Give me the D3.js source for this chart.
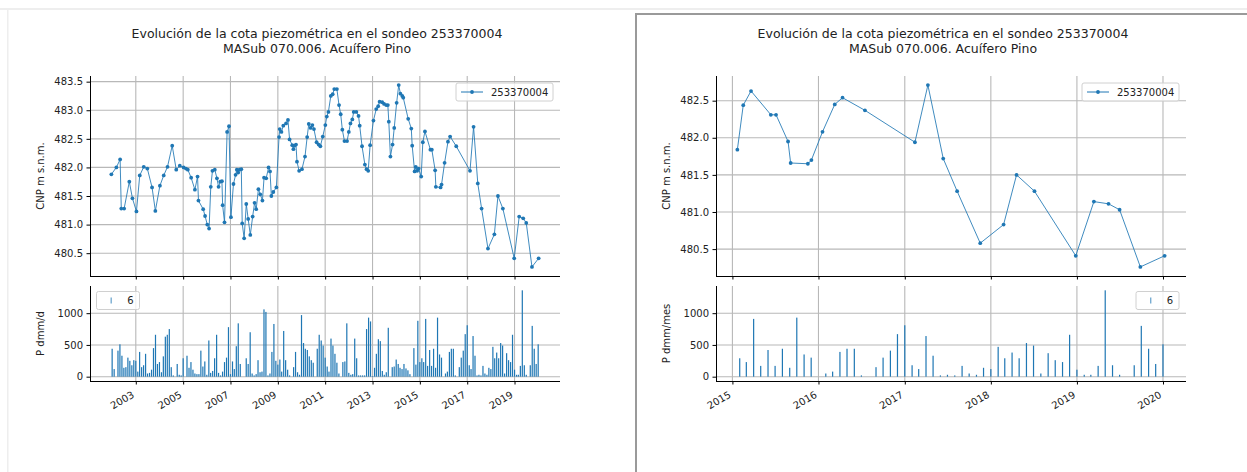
<!DOCTYPE html>
<html><head><meta charset="utf-8">
<script src="https://cdn.jsdelivr.net/npm/d3@7"></script>
<style>
body{margin:0;background:#fff;}
svg{display:block;font-family:"DejaVu Sans",sans-serif;}
</style></head><body>
<svg id="c" width="1247" height="472"></svg>
<script>
// ---------------- DATA ----------------
const titleLines = ["Evolución de la cota piezométrica en el sondeo 253370004", "MASub 070.006. Acuífero Pino"];
const seriesName = "253370004";
const precipName = "6";
const yLabelTop = "CNP m s.n.m.";
const yLabelBottomLeft = "P dmm/d";
const yLabelBottomRight = "P dmm/mes";

const lineDates = [
 "2001-12-20","2002-03-07","2002-05-04","2002-05-22","2002-07-05","2002-09-23","2002-11-10",
 "2003-01-11","2003-03-03","2003-05-04","2003-06-28","2003-09-09","2003-10-30",
 "2004-01-08","2004-03-07","2004-05-04","2004-07-16","2004-09-16","2004-11-10",
 "2005-01-08","2005-02-13","2005-03-14","2005-05-04","2005-07-01","2005-08-11","2005-08-25","2005-11-06","2005-12-05",
 "2006-01-08","2006-02-05","2006-03-03","2006-03-29","2006-05-04","2006-06-06","2006-07-01","2006-07-27","2006-08-22","2006-09-02","2006-10-01","2006-11-10","2006-12-09",
 "2007-01-08","2007-02-16","2007-03-21","2007-04-09","2007-04-30","2007-05-22","2007-06-17","2007-07-01","2007-07-31","2007-09-02","2007-10-01","2007-11-03","2007-12-09",
 "2008-01-08","2008-02-02","2008-03-07","2008-04-05","2008-05-08","2008-06-02","2008-07-05","2008-08-11","2008-09-02","2008-09-23","2008-10-23","2008-12-09",
 "2009-01-19","2009-01-30","2009-02-25","2009-03-26","2009-05-08","2009-06-06","2009-07-01","2009-08-11","2009-08-29","2009-09-13","2009-10-08","2009-10-23","2009-11-25",
 "2010-01-08","2010-02-24","2010-03-29","2010-04-23","2010-05-22","2010-06-17","2010-07-12","2010-08-22","2010-09-23","2010-10-19","2010-11-25",
 "2011-01-04","2011-01-26","2011-02-20","2011-03-29","2011-04-27","2011-05-22","2011-07-01","2011-08-03","2011-08-29","2011-09-23","2011-10-26","2011-12-05",
 "2012-01-01","2012-01-26","2012-02-24","2012-03-17","2012-04-26","2012-05-30","2012-06-17","2012-07-23","2012-09-05","2012-10-01","2012-10-26","2012-11-25",
 "2013-01-15","2013-02-27","2013-03-29","2013-04-20","2013-05-30","2013-06-28","2013-07-31","2013-08-25","2013-09-09","2013-10-04","2013-11-06","2013-12-02",
 "2014-01-08","2014-02-09","2014-03-07","2014-04-05","2014-04-20","2014-07-05","2014-08-22","2014-09-05","2014-10-12","2014-10-30","2014-11-21","2014-12-13",
 "2015-01-22","2015-02-16","2015-03-21","2015-06-13","2015-07-05","2015-08-25","2015-09-05","2015-11-17","2015-12-02",
 "2016-01-18","2016-03-10","2016-04-12","2016-07-16",
 "2017-02-13","2017-04-09","2017-06-13","2017-08-11","2017-11-17",
 "2018-02-24","2018-04-20","2018-07-05","2018-12-27",
 "2019-03-14","2019-05-15","2019-07-01","2019-09-27","2020-01-08"
];
const lineValues = [
 481.88,482.00,482.14,481.28,481.28,481.75,481.46,
 481.23,481.86,482.01,481.98,481.65,481.24,
 481.68,481.86,482.01,482.38,481.96,482.03,
 482.00,481.98,481.96,481.82,481.61,481.84,481.42,481.27,481.15,
 481.00,480.93,481.66,481.94,481.96,481.81,481.66,481.75,481.76,481.34,481.04,482.62,482.72,
 481.13,481.71,481.87,481.96,481.91,481.96,481.97,481.02,480.76,481.36,481.10,480.82,481.14,
 481.38,481.27,481.62,481.53,481.42,481.82,481.81,482.00,481.93,481.50,481.57,481.65,
 482.53,482.67,482.62,482.73,482.77,482.83,482.49,482.39,482.32,482.38,482.40,482.10,481.94,
 481.97,482.19,482.53,482.76,482.69,482.74,482.67,482.44,482.40,482.37,482.54,
 482.74,482.89,482.97,483.25,483.28,483.37,483.37,483.09,482.93,482.66,482.46,482.46,
 482.62,482.77,482.84,482.97,482.97,482.90,482.73,482.37,482.05,481.97,481.94,482.39,
 482.82,483.02,483.07,483.15,483.14,483.11,483.09,483.09,482.80,482.19,482.40,482.69,
 483.13,483.44,483.29,483.25,483.22,482.85,482.68,482.38,481.93,482.01,481.94,481.98,
 481.84,482.44,482.63,482.31,482.31,481.95,481.66,481.65,481.70,
 482.08,482.45,482.54,482.37,
 481.94,482.71,481.72,481.28,480.58,
 480.83,481.50,481.28,480.41,
 481.14,481.11,481.03,480.26,480.41
];

// monthly precipitation, one value per month starting at precipStart
const precipStart = "2002-01-01";
const precipValues = [
 440,120,0,410,510,330,140,150,300,250,180,260,      // 2002
 250,80,390,150,180,360,50,60,110,450,660,200,       // 2003
 230,70,320,630,660,750,150,20,0,200,30,20,          // 2004
 290,0,330,140,230,110,50,40,40,410,160,240,         // 2005
 30,570,60,90,290,660,60,20,80,230,300,780,          // 2006
 40,240,120,480,840,200,0,0,290,200,700,50,          // 2007
 20,40,260,70,80,1060,1020,20,50,390,830,250,        // 2008
 190,270,80,720,260,110,20,0,150,390,70,30,          // 2009
 970,530,440,420,320,260,220,0,440,660,570,490,      // 2010
 300,160,80,600,490,360,220,50,0,230,240,840,        // 2011
 60,30,40,600,290,20,20,20,20,750,930,870,           // 2012
 10,140,360,590,560,90,30,70,770,0,150,160,          // 2013
 270,200,140,120,200,130,100,40,0,450,190,880,       // 2014
 230,290,230,910,170,420,170,440,140,930,350,300,    // 2015
 0,50,80,390,440,440,20,0,150,300,410,670,           // 2016
 810,180,120,640,330,20,30,20,170,50,30,140,         // 2017
 120,470,290,380,290,530,490,50,370,260,230,660,     // 2018
 110,30,30,170,1360,180,30,0,180,800,440,200,        // 2019
 510                                                 // 2020
];

const leftXTicks = [2003,2005,2007,2009,2011,2013,2015,2017,2019];
const rightXTicks = [2015,2016,2017,2018,2019,2020];
const leftYTicks = [480.5,481.0,481.5,482.0,482.5,483.0,483.5];
const rightYTicks = [480.5,481.0,481.5,482.0,482.5];
const precipTicks = [0,500,1000];
const rightStart = "2015-01-01";

// ---------------- DRAW ----------------
const svg = d3.select("#c");
const parse = d3.timeParse("%Y-%m-%d");
const C = "#1f77b4";

// page frames
svg.append("rect").attr("x",0).attr("y",8).attr("width",1247).attr("height",2).attr("fill","#eeeeee");
svg.append("rect").attr("x",7).attr("y",9).attr("width",1.5).attr("height",463).attr("fill","#eeeeee");
svg.append("rect").attr("x",636).attr("y",14).attr("width",620).attr("height",470)
   .attr("fill","none").attr("stroke","#9a9a9a").attr("stroke-width",2);

const linePts = lineDates.map((d,i)=>({date:parse(d), v:lineValues[i]}));
const p0 = parse(precipStart);
const barPts = precipValues.map((v,i)=>({date:d3.timeMonth.offset(p0,i), v}));

function panel(opt){
  const g = svg.append("g");
  const pts = linePts.filter(p=>p.date>=opt.start);
  const bars = barPts.filter(b=>b.date>=pts[0].date);
  const allDates = pts.map(p=>p.date).concat(bars.map(b=>b.date));
  const [dmin,dmax] = d3.extent(allDates);
  const span = dmax - dmin;
  const x = d3.scaleTime().domain([new Date(+dmin - span*0.05), new Date(+dmax + span*0.05)]).range([opt.x0,opt.x1]);
  const [vmin,vmax] = d3.extent(pts,p=>p.v);
  const vr = vmax-vmin;
  const yT = d3.scaleLinear().domain([vmin-vr*0.05, vmax+vr*0.05]).range([276,76]);
  const bmax = d3.max(bars,b=>b.v);
  const yB = d3.scaleLinear().domain([-bmax*0.05, bmax*1.05]).range([381,286]);
  const xt = opt.xTicks.map(yy=>new Date(yy,0,1));

  function axesFrame(y, yticks, top, bottom){
    g.append("g").selectAll("line").data(xt).join("line")
      .attr("x1",d=>x(d)).attr("x2",d=>x(d)).attr("y1",top).attr("y2",bottom)
      .attr("stroke","#b8b8b8").attr("stroke-width",1.1);
    g.append("g").selectAll("line").data(yticks).join("line")
      .attr("x1",opt.x0).attr("x2",opt.x1).attr("y1",d=>y(d)).attr("y2",d=>y(d))
      .attr("stroke","#b8b8b8").attr("stroke-width",1.1);
  }
  function spines(y, yticks, fmt, top, bottom, showX){
    const yAxis = d3.axisLeft(y).tickValues(yticks).tickFormat(fmt).tickSize(3.5).tickPadding(3.5);
    const ga = g.append("g").attr("transform",`translate(${opt.x0},0)`).call(yAxis);
    ga.select(".domain").attr("d",`M0.5,${top}V${bottom}`).attr("stroke","#000");
    ga.selectAll("text").attr("font-size",10).attr("font-family","DejaVu Sans").attr("fill","#222");
    const xAxis = d3.axisBottom(x).tickValues(xt).tickFormat(showX?d3.timeFormat("%Y"):"").tickSize(3.5).tickPadding(3.5);
    const gx = g.append("g").attr("transform",`translate(0,${bottom})`).call(xAxis);
    gx.select(".domain").attr("d",`M${opt.x0},0.5H${opt.x1}`).attr("stroke","#000");
    if(showX){
      gx.selectAll("text").attr("font-size",10).attr("font-family","DejaVu Sans").attr("fill","#222")
        .attr("text-anchor","end").attr("dy",null).attr("y",null)
        .attr("transform","translate(0,17.8) rotate(-30)")
        .attr("dy","-0.24em");
    }
  }

  // top chart
  axesFrame(yT, opt.yTicks, 76, 276);
  g.append("path").datum(pts)
    .attr("d", d3.line().x(p=>x(p.date)).y(p=>yT(p.v)))
    .attr("fill","none").attr("stroke",C).attr("stroke-width",1).attr("stroke-opacity",0.85);
  g.append("g").selectAll("circle").data(pts).join("circle")
    .attr("cx",p=>x(p.date)).attr("cy",p=>yT(p.v)).attr("r",1.9).attr("fill",C);
  spines(yT, opt.yTicks, d3.format(".1f"), 76, 276, false);

  // bottom chart
  axesFrame(yB, precipTicks, 286, 381);
  g.append("g").selectAll("rect").data(bars.filter(b=>b.v>0)).join("rect")
    .attr("x",b=>x(b.date)-0.6).attr("width",1.2)
    .attr("y",b=>yB(b.v)).attr("height",b=>yB(0)-yB(b.v)).attr("fill",C);
  spines(yB, precipTicks, d3.format("d"), 286, 381, true);

  // y labels
  g.append("text").attr("transform",`translate(${opt.x0-46},176) rotate(-90)`)
    .attr("text-anchor","middle").attr("font-size",10).attr("fill","#222").text(yLabelTop);
  g.append("text").attr("transform",`translate(${opt.x0-46},333.5) rotate(-90)`)
    .attr("text-anchor","middle").attr("font-size",10).attr("fill","#222").text(opt.yLabelB);

  // title
  titleLines.forEach((t,i)=>{
    g.append("text").attr("x",opt.titleX).attr("y",38+i*14.5).attr("text-anchor","middle")
      .attr("font-size",12.5).attr("fill","#222").text(t);
  });

  // legend top
  const lx = opt.x1 - 104, ly = 83;
  g.append("rect").attr("x",lx).attr("y",ly).attr("width",97).attr("height",18).attr("rx",2)
    .attr("fill","#fff").attr("fill-opacity",0.8).attr("stroke","#d0d0d0").attr("stroke-width",1);
  g.append("line").attr("x1",lx+5).attr("x2",lx+27).attr("y1",ly+9).attr("y2",ly+9).attr("stroke",C).attr("stroke-width",1);
  g.append("circle").attr("cx",lx+16).attr("cy",ly+9).attr("r",1.9).attr("fill",C);
  g.append("text").attr("x",lx+35).attr("y",ly+12.5).attr("font-size",10).attr("fill","#222").text(seriesName);

  // legend bottom
  const bx = opt.legB, by = 291.5;
  g.append("rect").attr("x",bx).attr("y",by).attr("width",43).attr("height",18).attr("rx",2)
    .attr("fill","#fff").attr("fill-opacity",0.8).attr("stroke","#d0d0d0").attr("stroke-width",1);
  g.append("rect").attr("x",bx+14).attr("y",by+6).attr("width",1.4).attr("height",6).attr("fill",C).attr("fill-opacity",0.6);
  g.append("text").attr("x",bx+34).attr("y",by+12.5).attr("font-size",10).attr("fill","#222").attr("text-anchor","middle").text(precipName);
}

panel({x0:90, x1:560, start:new Date(1900,0,1), xTicks:leftXTicks, yTicks:leftYTicks,
       yLabelB:yLabelBottomLeft, titleX:317, legB:96.5});
panel({x0:716, x1:1186, start:parse(rightStart), xTicks:rightXTicks, yTicks:rightYTicks,
       yLabelB:yLabelBottomRight, titleX:943, legB:1136});
</script>
</body></html>
